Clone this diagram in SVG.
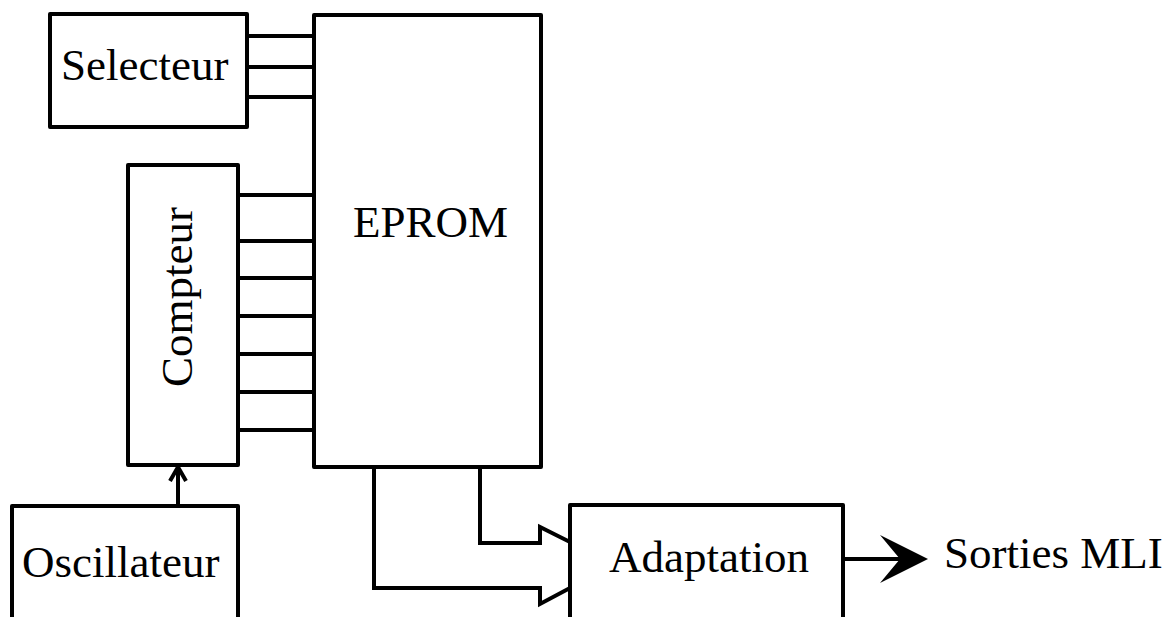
<svg xmlns="http://www.w3.org/2000/svg" width="1174" height="617" viewBox="0 0 1174 617">
<style>
.box{fill:#fff;stroke:#000;stroke-width:4;stroke-linejoin:round}
.ln{fill:none;stroke:#000;stroke-width:4;stroke-linejoin:miter}
.t{font-family:"Liberation Serif","Times New Roman",serif;font-size:45px;fill:#000}
</style>
<rect width="1174" height="617" fill="#fff"/>
<g id="connectors">
<path class="ln" d="M247 36H314M247 67H314M247 97H314"/>
<path class="ln" d="M238 195H314M238 241H314M238 278H314M238 316H314M238 354H314M238 392H314M238 430H314"/>
<path class="ln" d="M178 506V467M170 481L178 467L186 481"/>
<path class="ln" d="M480 467V543H540V527L570 542"/>
<path class="ln" d="M374 467V588H540V604L570 588"/>
<path class="ln" d="M843 559H905"/>
<path d="M928 559L880 535L900 559L880 583Z" fill="#000"/>
</g>
<g id="selecteur"><rect class="box" x="50" y="14" width="197" height="113"/><text class="t" x="61" y="80">Selecteur</text></g>
<g id="eprom"><rect class="box" x="314" y="15" width="227" height="452"/><text class="t" x="353" y="237">EPROM</text></g>
<g id="compteur"><rect class="box" x="128" y="165" width="110" height="300"/><text class="t" transform="translate(192 387) rotate(-90)">Compteur</text></g>
<g id="oscillateur"><rect class="box" x="12" y="506" width="226" height="130"/><text class="t" x="22" y="577">Oscillateur</text></g>
<g id="adaptation"><rect class="box" x="570" y="505" width="273" height="130"/><text class="t" x="609" y="572">Adaptation</text></g>
<g id="sorties"><text class="t" x="944" y="568">Sorties MLI</text></g>
</svg>
